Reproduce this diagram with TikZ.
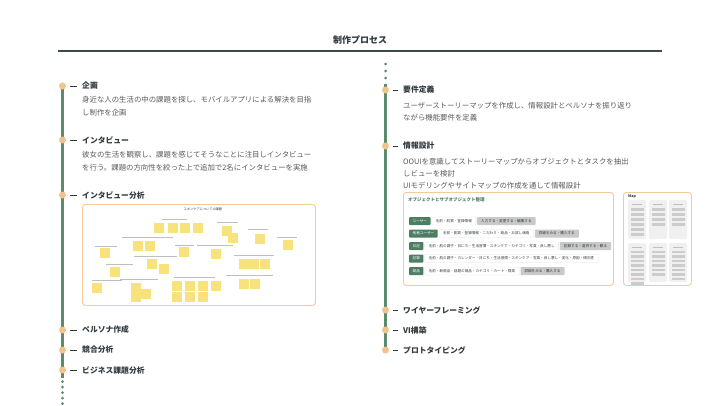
\documentclass[tikz,border=0pt]{standalone}
\usepackage{fontspec}
\setmainfont{Noto Sans CJK JP}
\usetikzlibrary{positioning}
\definecolor{procgreen}{HTML}{5B8A6C}
\definecolor{procorange}{HTML}{F3C38E}
\definecolor{framebord}{HTML}{F5CA9B}
\definecolor{taggreen}{HTML}{4F7D63}
\definecolor{inkdark}{HTML}{333A3F}
\definecolor{inkgray}{HTML}{5A5A5A}
\definecolor{stickyyel}{HTML}{F8E27C}
\definecolor{actgray}{HTML}{C9C9C9}
\definecolor{rulegray}{HTML}{3E4A50}
\tikzset{
pdot/.style={circle,fill=procorange,inner sep=0pt,minimum size=7pt},
ptick/.style={draw=inkdark,line width=0.8pt},
plabel/.style={anchor=west,inner sep=0pt,text=inkdark,font=\fontsize{7.8}{9}\selectfont\bfseries},
pdesc/.style={anchor=north west,inner sep=0pt,align=left,text=inkgray,font=\fontsize{7.4}{12.4}\selectfont},
pline/.style={draw=procgreen,line width=3pt},
pdots/.style={fill=procgreen},
pframe/.style={draw=framebord,line width=0.9pt,rounded corners=3pt,fill=white,inner sep=0pt},
sticky/.style={fill=stickyyel},
hdrline/.style={draw=black!25,line width=0.7pt},
otag/.style={fill=taggreen,text=white,rounded corners=0.8pt,inner xsep=3.5pt,inner ysep=0pt,minimum height=8pt,font=\fontsize{3.6}{4}\selectfont},
oattr/.style={fill=white,draw=black!12,line width=0.3pt,rounded corners=0.8pt,text=inkdark,inner xsep=4pt,inner ysep=0pt,minimum height=8pt,font=\fontsize{3.6}{4}\selectfont},
oact/.style={fill=actgray,text=inkdark,rounded corners=0.8pt,inner xsep=4pt,inner ysep=0pt,minimum height=8pt,font=\fontsize{3.6}{4}\selectfont},
mpanel/.style={fill=black!6,rounded corners=1.5pt},
mbar/.style={fill=black!20}
}
\begin{document}
\begin{tikzpicture}[x=1pt,y=-1pt]
\useasboundingbox[fill=white] (0,0) rectangle (720,405);
% title and rule
\node[font=\fontsize{9}{10}\selectfont\bfseries,text=inkdark] (title) at (360,40) {制作プロセス};
\coordinate (ruleL) at (58,51);
\coordinate (ruleR) at (662,51);
\draw[draw=rulegray,line width=1.8pt] (ruleL) -- (ruleR);
% left timeline
\coordinate (ltop) at (62.5,85);
\coordinate (lbot) at (62.5,378);
\draw[pline] (ltop) -- (lbot);
\foreach \y in {381.5,387,392.5,398,403.5} \fill[pdots] (62.5,\y) circle (1.5pt);
\node[pdot] (dplan) at (62.5,86) {};
\node[pdot] (dinter) at (62.5,140) {};
\node[pdot] (danaly) at (62.5,195) {};
\node[pdot] (dpersona) at (62.5,330) {};
\node[pdot] (dcomp) at (62.5,350) {};
\node[pdot] (dbiz) at (62.5,370) {};
\node[plabel] (lplan) at (82,86) {企画};
\node[plabel] (linter) at (82,140) {インタビュー};
\node[plabel] (lanaly) at (82,195) {インタビュー分析};
\node[plabel] (lpersona) at (82,330) {ペルソナ作成};
\node[plabel] (lcomp) at (82,350) {競合分析};
\node[plabel] (lbiz) at (82,370) {ビジネス課題分析};
\foreach \d/\l in {dplan/lplan,dinter/linter,danaly/lanaly,dpersona/lpersona,dcomp/lcomp,dbiz/lbiz}
  \draw[ptick] ([xshift=4pt]\d.east) -- ([xshift=-5pt]\l.west);
\node[pdesc] (tplan) at (82,96.5) {身近な人の生活の中の課題を探し、モバイルアプリによる解決を目指\\し制作を企画};
\node[pdesc] (tinter) at (82,151.5) {彼女の生活を観察し、課題を感じてそうなことに注目しインタビュー\\を行う。課題の方向性を絞った上で追加で2名にインタビューを実施};
% sticky board
\node[pframe,minimum width=233pt,minimum height=101pt,anchor=north west] (skinframe) at (82,204) {};
\node[font=\fontsize{3.2}{4}\selectfont,text=inkdark,inner sep=0pt] (skintitle) at (203,209) {スキンケアについての課題};
\foreach \a/\b/\y in {162/187/219,217/238/222,248/268/229,277/297/237,122/173/237,95/117/246,175/194/245,197/233/245,134/177/256,234/274/255,106/133/264,92/122/280,120/158/279,174/215/277,226/273/275}
  \draw[hdrline] (\a,\y) -- (\b,\y);
\foreach \x/\y in {154/223,168/223,180/223,193/223,222/226,228/233,255/234,283/240,133/241,145/241,100/248,179/247,211/249,147/259,159/264,239/259,249/259,260/259,110/267,92/283,131/283,141/289,131/292,172/281,185/281,198/281,211/281,172/292,185/292,198/292,239/279,250/279}
  \fill[sticky] (\x,\y) rectangle ++(9.5,9.5);
% right timeline
\coordinate (rtop) at (385.5,84);
\coordinate (rbot) at (385.5,352);
\draw[pline] (rtop) -- (rbot);
\foreach \y in {64,71,78} \fill[pdots] (385.5,\y) circle (1.5pt);
\node[pdot] (dreq) at (385.5,90) {};
\node[pdot] (dinfo) at (385.5,146) {};
\node[pdot] (dwire) at (385.5,310) {};
\node[pdot] (dvi) at (385.5,330) {};
\node[pdot] (dproto) at (385.5,350) {};
\node[plabel] (lreq) at (403,90) {要件定義};
\node[plabel] (linfo) at (403,146) {情報設計};
\node[plabel] (lwire) at (403,310) {ワイヤーフレーミング};
\node[plabel] (lvi) at (403,330) {VI構築};
\node[plabel] (lproto) at (403,350) {プロトタイピング};
\foreach \d/\l in {dreq/lreq,dinfo/linfo,dwire/lwire,dvi/lvi,dproto/lproto}
  \draw[ptick] ([xshift=4pt]\d.east) -- ([xshift=-5pt]\l.west);
\node[pdesc,font=\fontsize{7.4}{12}\selectfont] (treq) at (403,102) {ユーザーストーリーマップを作成し、情報設計とペルソナを振り返り\\ながら機能要件を定義};
\node[pdesc,font=\fontsize{7.4}{12}\selectfont] (tinfo) at (403,157.5) {OOUIを意識してストーリーマップからオブジェクトとタスクを抽出\\しビューを検討\\UIモデリングやサイトマップの作成を通して情報設計};
% object table
\node[pframe,minimum width=210pt,minimum height=93pt,anchor=north west] (objframe) at (403,192) {};
\node[anchor=west,inner sep=0pt,text=taggreen,font=\fontsize{4.5}{5}\selectfont\bfseries] (objtitle) at (408,200) {オブジェクトとサブオブジェクト整理};
\node[otag,anchor=west] (tuser) at (409,221) {ユーザー};
\node[oattr,right=1pt of tuser] (auser) {名前・肌質・登録情報};
\node[oact,right=1pt of auser] (cuser) {入力する・変更する・編集する};
\node[otag,anchor=west] (tother) at (409,233.5) {他者ユーザー};
\node[oattr,right=1pt of tother] (aother) {名前・肌質・登録情報・こだわり・商品・お試し価格};
\node[oact,right=1pt of aother] (cother) {詳細をみる・購入する};
\node[otag,anchor=west] (tdiary) at (409,246) {日記};
\node[oattr,right=1pt of tdiary] (adiary) {名前・肌の調子・日にち・生活習慣・スキンケア・カテゴリ・写真・良し悪し};
\node[oact,right=1pt of adiary] (cdiary) {記録する・選択する・観る};
\node[otag,anchor=west] (trec) at (409,258.5) {記録};
\node[oattr,right=1pt of trec] (arec) {名前・肌の調子・カレンダー・日にち・生活習慣・スキンケア・写真・良し悪し・変化・原因・傾向性};
\node[otag,anchor=west] (titem) at (409,271) {商品};
\node[oattr,right=1pt of titem] (aitem) {名前・新商品・話題の商品・カテゴリ・カート・検索};
\node[oact,right=1pt of aitem] (citem) {詳細をみる・購入する};
% site map
\node[pframe,minimum width=68pt,minimum height=93pt,anchor=north west] (mapframe) at (623,192) {};
\node[anchor=west,inner sep=0pt,font=\fontsize{3.6}{4}\selectfont\bfseries,text=inkdark] (maptitle) at (628,197) {Map};
\foreach \px/\nt/\nb in {628/6/8,649/4/6,669/4/7}{
  \fill[mpanel] (\px,200) rectangle ++(18,39);
  \fill[mpanel] (\px,243) rectangle ++(18,39);
  \draw[hdrline,line width=0.6pt] ({\px+4},204) -- ({\px+14},204);
  \draw[hdrline,line width=0.6pt] ({\px+4},247) -- ({\px+14},247);
  \foreach \i in {1,...,\nt} \fill[mbar] ({\px+2.5},{203+5*\i}) rectangle ++(13,2.5);
  \foreach \i in {1,...,\nb} \fill[mbar] ({\px+2.5},{246+4.5*\i}) rectangle ++(13,2.5);
}
\end{tikzpicture}
\end{document}
